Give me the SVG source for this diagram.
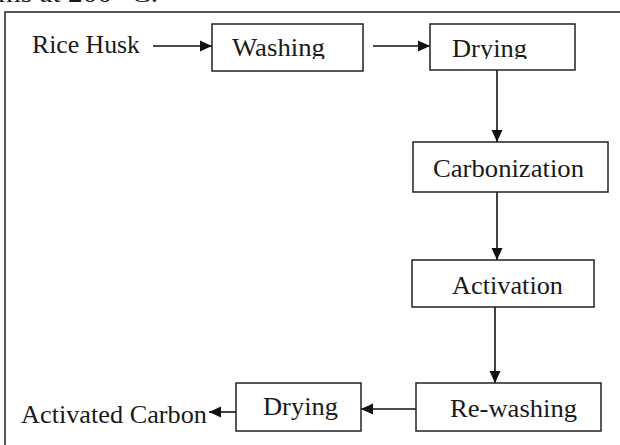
<svg xmlns="http://www.w3.org/2000/svg" width="620" height="445" viewBox="0 0 620 445">
<style>
text{font-family:"Liberation Serif","Times New Roman",serif;font-size:25px;fill:#1a1a1a}
.box{fill:#fff;stroke:#222;stroke-width:1.5}
.con{stroke:#111;stroke-width:1.6;fill:none}
</style>
<defs>
<marker id="ah" viewBox="0 0 12 12" refX="12" refY="6" markerWidth="12" markerHeight="12" markerUnits="userSpaceOnUse" orient="auto">
<path d="M0,0.5 L12,6 L0,11.5 Z" fill="#111"/>
</marker>
<clipPath id="c1"><rect x="213" y="25" width="150" height="34"/></clipPath>
<clipPath id="c2"><rect x="431" y="25" width="144" height="34"/></clipPath>
</defs>
<rect width="620" height="445" fill="#fff"/>
<text x="-2" y="2" textLength="160" lengthAdjust="spacingAndGlyphs">ms at 200 °C.</text>
<rect x="5" y="12" width="700" height="500" fill="none" stroke="#222" stroke-width="1.5"/>
<g id="connectors">
<line class="con" x1="153" y1="46" x2="212" y2="46" marker-end="url(#ah)"/>
<line class="con" x1="373" y1="46" x2="430" y2="46" marker-end="url(#ah)"/>
<line class="con" x1="497" y1="70" x2="497" y2="142" marker-end="url(#ah)"/>
<line class="con" x1="497" y1="192" x2="497" y2="260" marker-end="url(#ah)"/>
<line class="con" x1="495" y1="307" x2="495" y2="383" marker-end="url(#ah)"/>
<line class="con" x1="416" y1="409" x2="361" y2="409" marker-end="url(#ah)"/>
<line class="con" x1="236" y1="412" x2="209" y2="412" marker-end="url(#ah)"/>
</g>
<g id="rice-husk"><text x="32" y="53" textLength="108" lengthAdjust="spacingAndGlyphs">Rice Husk</text></g>
<g id="washing"><rect class="box" x="212" y="24" width="151" height="47"/><text x="232" y="56" textLength="93" lengthAdjust="spacingAndGlyphs" clip-path="url(#c1)">Washing</text></g>
<g id="drying1"><rect class="box" x="430" y="24" width="145" height="46"/><text x="452" y="57" textLength="75" lengthAdjust="spacingAndGlyphs" clip-path="url(#c2)">Drying</text></g>
<g id="carbonization"><rect class="box" x="413" y="142" width="195" height="50"/><text x="433" y="177" textLength="151" lengthAdjust="spacingAndGlyphs">Carbonization</text></g>
<g id="activation"><rect class="box" x="412" y="260" width="182" height="47"/><text x="452" y="294" textLength="111" lengthAdjust="spacingAndGlyphs">Activation</text></g>
<g id="rewashing"><rect class="box" x="416" y="383" width="185" height="48"/><text x="450" y="417" textLength="127" lengthAdjust="spacingAndGlyphs">Re-washing</text></g>
<g id="drying2"><rect class="box" x="236" y="383" width="125" height="48"/><text x="263" y="415" textLength="75" lengthAdjust="spacingAndGlyphs">Drying</text></g>
<g id="activated-carbon"><text x="21" y="423" textLength="186" lengthAdjust="spacingAndGlyphs">Activated Carbon</text></g>
</svg>
